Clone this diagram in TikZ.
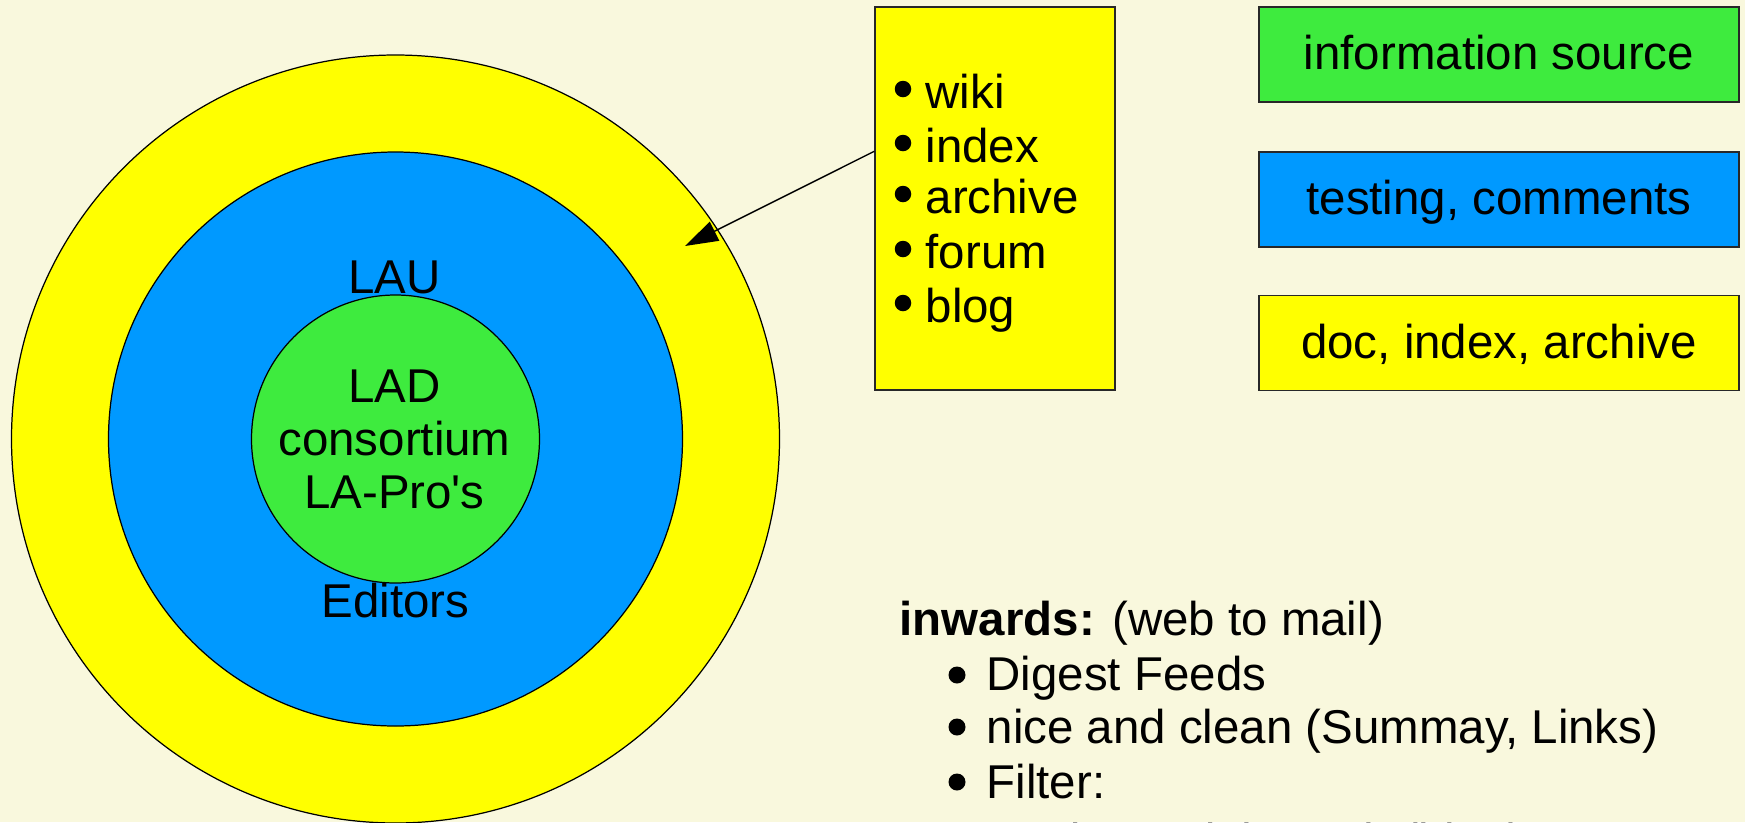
\documentclass[tikz,border=0pt]{standalone}
\usepackage{fontspec}
\setmainfont{Liberation Sans}[Ligatures=TeXOff]
\usetikzlibrary{arrows.meta,calc}
\definecolor{bgcol}{RGB}{249,248,221}
\definecolor{ylw}{RGB}{255,255,0}
\definecolor{blu}{RGB}{0,153,255}
\definecolor{grn}{RGB}{62,235,62}
\definecolor{edge}{RGB}{40,40,40}
\begin{document}
\begin{tikzpicture}[
  txt/.style={font=\fontsize{13.5}{15}\selectfont, inner sep=0pt},
  ring/.style={circle, draw=black, line width=0.35pt, inner sep=0pt},
  keybox/.style={draw=edge, line width=0.4pt, minimum width=4.8cm, minimum height=0.95cm,
     inner sep=0pt, text height=0.35cm, text depth=0.05cm, font=\fontsize{13.5}{15}\selectfont},
  bul/.style={circle, fill=black, inner sep=0pt, minimum size=0.165cm},
  pointer/.style={draw=black, line width=0.4pt, -{Triangle[length=0.33cm,width=0.21cm]}}
]
\useasboundingbox (0,0) rectangle (17.45,-8.22);
\clip (0,0) rectangle (17.45,-8.22);
\fill[bgcol] (0,0) rectangle (17.45,-8.22);

% concentric circles
\node[ring, fill=ylw, minimum size=7.68cm] (outer) at (3.955,-4.39) {};
\node[ring, fill=blu, minimum size=5.74cm] (middle) at (3.955,-4.39) {};
\node[ring, fill=grn, minimum size=2.88cm] (inner) at (3.955,-4.39) {};

\node[txt, anchor=base] (lau) at (3.945,-2.93) {LAU};
\node[txt, anchor=base] (lad) at (3.945,-4.02) {LAD};
\node[txt, anchor=base] (cons) at (3.945,-4.55) {consortium};
\node[txt, anchor=base] (lapro) at (3.945,-5.08) {LA-Pro's};
\node[txt, anchor=base] (editors) at (3.955,-6.17) {Editors};

% yellow list box
\node[draw=edge, line width=0.4pt, fill=ylw, minimum width=2.4cm, minimum height=3.83cm, inner sep=0pt]
  (list) at (9.95,-1.985) {};
\node[bul] (b1) at (9.03,-0.89) {};
\node[txt, anchor=base west] (wiki) at (9.25,-1.08) {wiki};
\node[bul] (b2) at (9.03,-1.43) {};
\node[txt, anchor=base west] (index) at (9.25,-1.62) {index};
\node[bul] (b3) at (9.03,-1.94) {};
\node[txt, anchor=base west] (archive) at (9.25,-2.13) {archive};
\node[bul] (b4) at (9.03,-2.49) {};
\node[txt, anchor=base west] (forum) at (9.25,-2.68) {forum};
\node[bul] (b5) at (9.03,-3.03) {};
\node[txt, anchor=base west] (blog) at (9.25,-3.22) {blog};

% pointer arrow
\coordinate (tip) at (6.85,-2.46);
\coordinate (start) at ($(list.north west)+(0,-1.45)$);
\draw[pointer] (start) -- (tip);

% legend boxes
\node[keybox, fill=grn] (info) at (14.99,-0.545) {information source};
\node[keybox, fill=blu] (test) at (14.99,-1.995) {testing, comments};
\node[keybox, fill=ylw] (doc) at (14.99,-3.43) {doc, index, archive};

% inwards list
\node[txt, anchor=base west] (inw) at (8.99,-6.35) {\textbf{inwards:} (web to mail)};
\node[bul, minimum size=0.17cm] (c1) at (9.57,-6.75) {};
\node[txt, anchor=base west] (digest) at (9.86,-6.90) {Digest Feeds};
\node[bul, minimum size=0.17cm] (c2) at (9.57,-7.27) {};
\node[txt, anchor=base west] (nice) at (9.86,-7.43) {nice and clean (Summay, Links)};
\node[bul, minimum size=0.17cm] (c3) at (9.57,-7.82) {};
\node[txt, anchor=base west] (filter) at (9.86,-7.98) {Filter:};
\node[txt, anchor=base west] (moder) at (9.88,-8.57) {moderated through (blog)};
\end{tikzpicture}
\end{document}
